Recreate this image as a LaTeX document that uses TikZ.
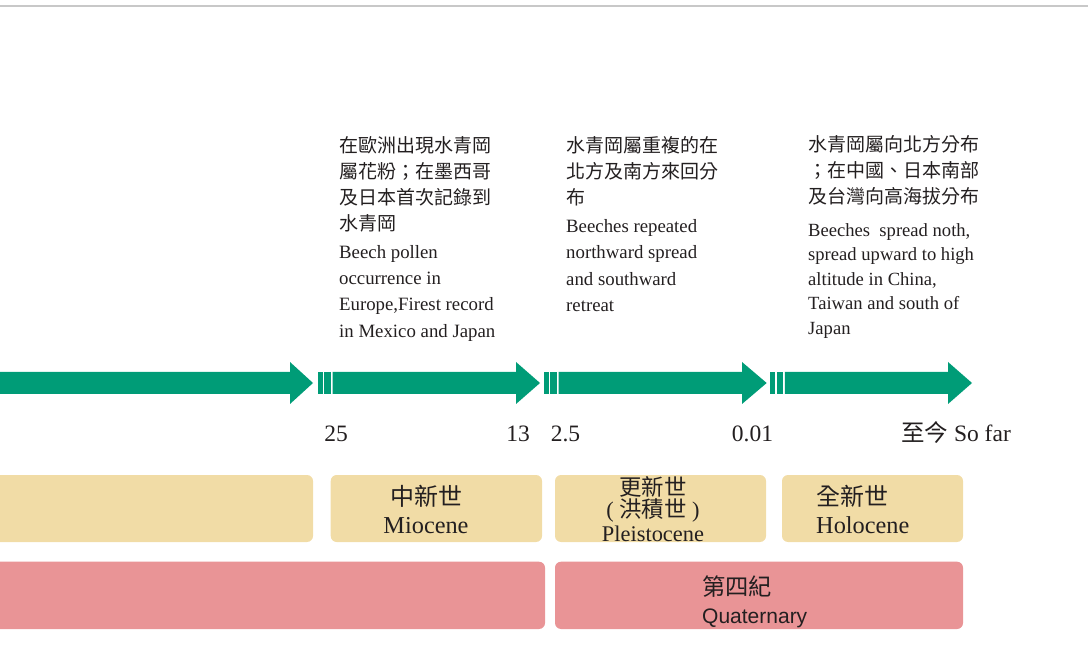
\documentclass[tikz,border=0pt]{standalone}
\usepackage{fontspec}
\setmainfont{Liberation Serif}
\newfontfamily\cjk{Noto Sans CJK TC}
\newfontfamily\arialf{Liberation Sans}
\definecolor{tlgreen}{RGB}{0,156,119}
\definecolor{epoch}{RGB}{241,220,166}
\definecolor{period}{RGB}{233,148,150}
\definecolor{rule}{RGB}{200,200,200}
\definecolor{txt}{RGB}{35,31,32}
\begin{document}
\begin{tikzpicture}[x=1pt,y=-1pt,
  arrowfill/.style={fill=tlgreen},
  epochbox/.style={fill=epoch, rounded corners=6pt},
  periodbox/.style={fill=period, rounded corners=6pt},
  cjkline/.style={anchor=base west, inner sep=0pt, text=txt, font=\cjk\fontsize{19}{22}\selectfont},
  enline/.style={anchor=base west, inner sep=0pt, text=txt, font=\fontsize{18.8}{22}\selectfont},
  enlinesm/.style={anchor=base west, inner sep=0pt, text=txt, font=\fontsize{18.6}{22}\selectfont},
  ticklab/.style={anchor=base, inner sep=0pt, text=txt, font=\fontsize{23.5}{26}\selectfont},
  boxcjk/.style={inner sep=0pt, text=txt, font=\cjk\fontsize{24}{26}\selectfont},
  boxen/.style={inner sep=0pt, text=txt, font=\fontsize{24.3}{26}\selectfont},
  smallcjk/.style={inner sep=0pt, text=txt, font=\cjk\fontsize{22.4}{26}\selectfont},
  smallen/.style={inner sep=0pt, text=txt, font=\fontsize{22.4}{26}\selectfont}
]
\useasboundingbox (0,0) rectangle (1088,668);
% top rule
\draw[rule, line width=2pt] (0,6.3) -- (1088,6.3);

% arrow segment 1
\fill[arrowfill] (-5,372) -- (290,372) -- (290,362) -- (313,383) -- (290,404) -- (290,394) -- (-5,394) -- cycle;
% arrow segment 2
\fill[arrowfill] (318,372) rectangle (322.7,394);
\fill[arrowfill] (324.3,372) rectangle (330.7,394);
\fill[arrowfill] (332.7,372) -- (516,372) -- (516,362) -- (540,383) -- (516,404) -- (516,394) -- (332.7,394) -- cycle;
% arrow segment 3
\fill[arrowfill] (544,372) rectangle (548.7,394);
\fill[arrowfill] (550.3,372) rectangle (556.5,394);
\fill[arrowfill] (558.5,372) -- (742,372) -- (742,362) -- (766.7,383) -- (742,404) -- (742,394) -- (558.5,394) -- cycle;
% arrow segment 4
\fill[arrowfill] (770,372) rectangle (774.8,394);
\fill[arrowfill] (776.5,372) rectangle (782.7,394);
\fill[arrowfill] (784.8,372) -- (948,372) -- (948,362) -- (972,383) -- (948,404) -- (948,394) -- (784.8,394) -- cycle;

% tick labels
\node[ticklab] (t25) at (336,441.5) {25};
\node[ticklab] (t13) at (518,441.5) {13};
\node[ticklab] (t25b) at (565.5,441.5) {2.5};
\node[ticklab] (t001) at (752.5,441.5) {0.01};
\node[ticklab] (tnow) at (956,441.5) {{\cjk 至今} So far};

% epoch boxes
\fill[epochbox] (-10,475) rectangle (313,542);
\fill[epochbox] (330.7,475) rectangle (542,542);
\fill[epochbox] (555,475) rectangle (766,542);
\fill[epochbox] (782,475) rectangle (963,542);
% period boxes
\fill[periodbox] (-10,561.7) rectangle (545,629);
\fill[periodbox] (555,561.7) rectangle (963,629);

% epoch labels
\node[boxcjk, anchor=base] (mioc) at (426,505) {中新世};
\node[boxen, anchor=base] (mioe) at (426,533) {Miocene};
\node[smallcjk, anchor=base] (plc1) at (653,495.5) {更新世};
\node[smallen, anchor=base] (plc2) at (653,518) {( {\cjk 洪積世} )};
\node[smallen, anchor=base] (ple) at (653,541) {Pleistocene};
\node[boxcjk, anchor=base west] (holc) at (816,505) {全新世};
\node[boxen, anchor=base west] (hole) at (816,533) {Holocene};
% period label
\node[anchor=base west, inner sep=0pt, text=txt, font=\cjk\fontsize{23.3}{26}\selectfont] (quc) at (702,595) {第四紀};
\node[anchor=base west, inner sep=0pt, text=txt, font=\arialf\fontsize{21}{26}\selectfont] (que) at (702,623) {Quaternary};

% column 1
\foreach \t [count=\i] in {在歐洲出現水青岡,屬花粉；在墨西哥,及日本首次記錄到,水青岡}
  \node[cjkline] (ac\i) at (339,{153+25.7*(\i-1)}) {\t};
\foreach \t [count=\i] in {Beech pollen,occurrence in,{Europe,Firest record},in Mexico and Japan}
  \node[enline] (ae\i) at (339,{258.5+26.2*(\i-1)}) {\t};
% column 2
\foreach \t [count=\i] in {水青岡屬重複的在,北方及南方來回分,布}
  \node[cjkline] (bc\i) at (566,{153+26*(\i-1)}) {\t};
\foreach \t [count=\i] in {Beeches repeated,northward spread,and southward,retreat}
  \node[enline] (be\i) at (566,{232.5+26.3*(\i-1)}) {\t};
% column 3
\foreach \t [count=\i] in {水青岡屬向北方分布,；在中國、日本南部,及台灣向高海拔分布}
  \node[cjkline] (cc\i) at (808,{152+26*(\i-1)}) {\t};
\foreach \t [count=\i] in {{Beeches~ spread noth,},spread upward to high,{altitude in China,},Taiwan and south of,Japan}
  \node[enlinesm] (ce\i) at (808,{236.5+24.4*(\i-1)}) {\t};
\end{tikzpicture}
\end{document}
